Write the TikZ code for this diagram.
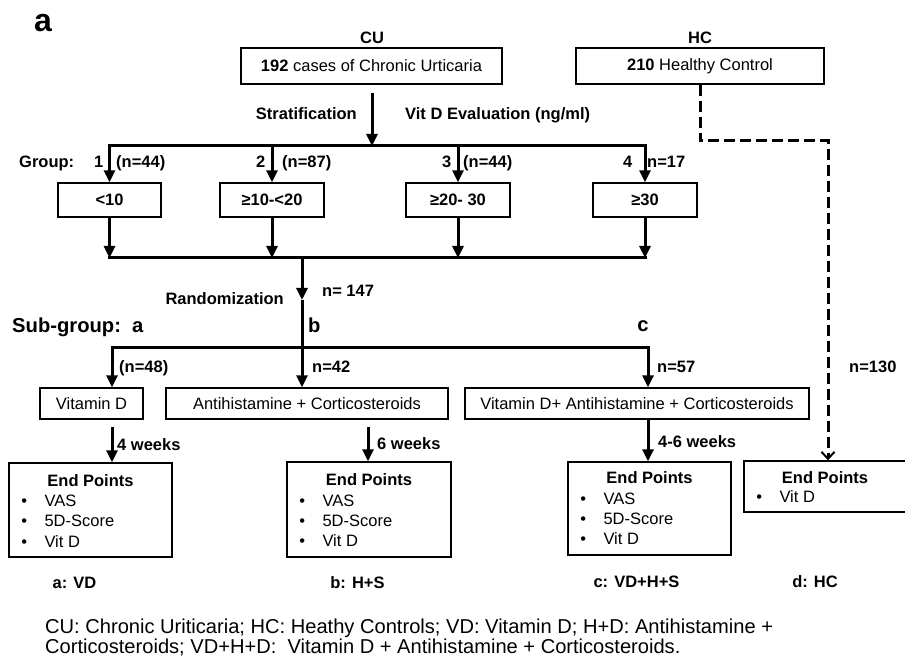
\documentclass[tikz,border=0pt]{standalone}
\usepackage{fontspec}
\setmainfont{Liberation Sans}
\usetikzlibrary{arrows.meta,calc}
\newcommand\fs{\fontsize{16.5}{19}\selectfont}
\newcommand\epitem[4]{%
  \node[ep, anchor=base] (#2b) at ($(#1.north west)+(16,#3)$) {\textbullet};
  \node[ep, anchor=base west] (#2t) at ($(#1.north west)+(36,#3)$) {#4};}
\begin{document}
\begin{tikzpicture}[x=1pt,y=-1pt,
  box/.style={draw, line width=1.4pt, inner sep=0pt, font=\fs},
  gbox/.style={box, font=\fs\bfseries, minimum width=104pt, minimum height=34pt},
  arr/.style={line width=3pt, -{Triangle[length=12pt,width=11pt]}},
  bar/.style={line width=3pt, line cap=rect},
  dsh/.style={line width=3pt, dash pattern=on 11pt off 5pt, -{Straight Barb[length=7pt,width=13pt,line width=2pt]}},
  lbl/.style={inner sep=0pt, font=\fs\bfseries, anchor=base west},
  big/.style={inner sep=0pt, font=\fontsize{20.2}{22}\selectfont\bfseries, anchor=base west},
  ep/.style={inner sep=0pt, font=\fs},
  leg/.style={inner sep=0pt, anchor=base west, font=\fontsize{20.1}{20}\selectfont}]
\clip (0,0) rectangle (905,668);
\fill[white] (0,0) rectangle (905,668);

\node[inner sep=0pt, anchor=base west, font=\fontsize{32}{32}\selectfont\bfseries] (tag) at (34,32) {a};
\node[lbl, anchor=base] (culbl) at (372,44) {CU};
\node[lbl, anchor=base] (hclbl) at (700,44) {HC};
\node[box, minimum width=261pt, minimum height=36pt] (cu) at (371.5,66) {\textbf{192} cases of Chronic Urticaria};
\node[box, minimum width=248pt, minimum height=36pt] (hc) at (700,66) {\textbf{210} Healthy Control};

% stratification
\coordinate (s0) at (372,93);
\coordinate (b1) at (372,146);
\draw[arr] (s0) -- (b1);
\node[lbl, anchor=base east] (strat) at (357,120) {Stratification};
\node[lbl] (vitd) at (405,120) {Vit D Evaluation (ng/ml)};

% groups
\node[gbox, minimum width=103pt] (g1) at (109.5,200) {<10};
\node[gbox] (g2) at (272,200) {≥10-<20};
\node[gbox] (g3) at (458,200) {≥20- 30};
\node[gbox] (g4) at (645,200) {≥30};
\draw[bar] (g1.north |- b1) -- (g4.north |- b1);
\foreach \g in {g1,g2,g3,g4} \draw[arr] (\g.north |- b1) -- (\g.north);

\node[lbl] (grp) at (19,168) {Group:};
\node[lbl] (n1) at (94,168) {1};
\node[lbl] (c1) at (116,168) {(n=44)};
\node[lbl] (n2) at (256,168) {2};
\node[lbl] (c2) at (282,168) {(n=87)};
\node[lbl] (n3) at (442,168) {3};
\node[lbl] (c3) at (463,168) {(n=44)};
\node[lbl] (n4) at (623,168) {4};
\node[lbl] (c4) at (647,168) {n=17};

% merge
\coordinate (b2) at (302,258);
\foreach \g in {g1,g2,g3,g4} \draw[arr] (\g.south) -- (\g.south |- b2);
\draw[bar] (g1.south |- b2) -- (g4.south |- b2);

% randomization
\coordinate (r1) at (302,300);
\coordinate (b3) at (302,347);
\draw[arr] (b2) -- (r1);
\draw[line width=3pt] (r1) -- (b3);
\node[lbl, anchor=base east] (rand) at (284,305) {Randomization};
\node[lbl] (n147) at (322,297) {n= 147};
\node[big] (sub) at (12,333) {Sub-group:\ \ a};
\node[big] (sb) at (308,333) {b};
\node[big, anchor=base] (sc0) at (643,332) {c};

% subgroups
\node[box, minimum width=103pt, minimum height=31pt] (va) at (91.5,403.5) {Vitamin D};
\node[box, minimum width=282pt, minimum height=31pt] (ah) at (307,403.5) {Antihistamine + Corticosteroids};
\node[box, minimum width=344pt, minimum height=31pt] (vah) at (637,403.5) {Vitamin D+ Antihistamine + Corticosteroids};
\coordinate (sa) at (112,347);
\coordinate (sc) at (648,347);
\draw[bar] (sa) -- (sc);
\draw[arr] (sa) -- (sa |- va.north);
\draw[arr] (b3) -- (b3 |- ah.north);
\draw[arr] (sc) -- (sc |- vah.north);
\node[lbl] (n48) at (119,372) {(n=48)};
\node[lbl] (n42) at (312,372) {n=42};
\node[lbl] (n57) at (657,372) {n=57};
\node[lbl] (n130) at (849,372) {n=130};

% end point boxes
\node[box, minimum width=163pt, minimum height=94pt] (ea) at (90.5,510) {};
\node[box, minimum width=164pt, minimum height=95pt] (eb) at (369,509.5) {};
\node[box, minimum width=163pt, minimum height=93pt] (ec) at (649.5,508.5) {};
\node[box, minimum width=176pt, minimum height=51pt] (ed) at (832,486.5) {};

\coordinate (wa) at (112,427);
\coordinate (wb) at (368,427);
\coordinate (wc) at (648,419);
\draw[arr] (wa) -- (wa |- ea.north);
\draw[arr] (wb) -- (wb |- eb.north);
\draw[arr] (wc) -- (wc |- ec.north);
\node[lbl] (w4) at (117,450) {4 weeks};
\node[lbl] (w6) at (377,449) {6 weeks};
\node[lbl] (w46) at (658,447) {4-6 weeks};

% HC dashed path
\coordinate (d1) at (700,141);
\coordinate (d2) at (828,141);
\draw[dsh] (hc.south) -- (d1) -- (d2) -- (d2 |- ed.north);

% end point contents
\node[lbl, anchor=base] (eaT) at ($(ea.north)+(0,24)$) {End Points};
\epitem{ea}{eaA}{44}{VAS}
\epitem{ea}{eaB}{64.5}{5D-Score}
\epitem{ea}{eaC}{85}{Vit D}
\node[lbl, anchor=base] (ebT) at ($(eb.north)+(0,24)$) {End Points};
\epitem{eb}{ebA}{45}{VAS}
\epitem{eb}{ebB}{65}{5D-Score}
\epitem{eb}{ebC}{85}{Vit D}
\node[lbl, anchor=base] (ecT) at ($(ec.north)+(0,22)$) {End Points};
\epitem{ec}{ecA}{43}{VAS}
\epitem{ec}{ecB}{63}{5D-Score}
\epitem{ec}{ecC}{83}{Vit D}
\node[lbl, anchor=base] (edT) at (825,483) {End Points};
\epitem{ed}{edA}{42}{Vit D}

% bottom labels
\node[lbl, anchor=base] (la) at (74.5,588) {a: VD};
\node[lbl, anchor=base] (lb) at (357.5,588) {b: H+S};
\node[lbl, anchor=base] (lc) at (636.5,587) {c: VD+H+S};
\node[lbl, anchor=base] (ld) at (815,587) {d: HC};

% legend
\node[leg] (leg1) at (45,633) {CU: Chronic Uriticaria; HC: Heathy Controls; VD: Vitamin D; H+D: Antihistamine +};
\node[leg] (leg2) at (45,653) {Corticosteroids; VD+H+D:\ \ Vitamin D + Antihistamine + Corticosteroids.};
\end{tikzpicture}
\end{document}
